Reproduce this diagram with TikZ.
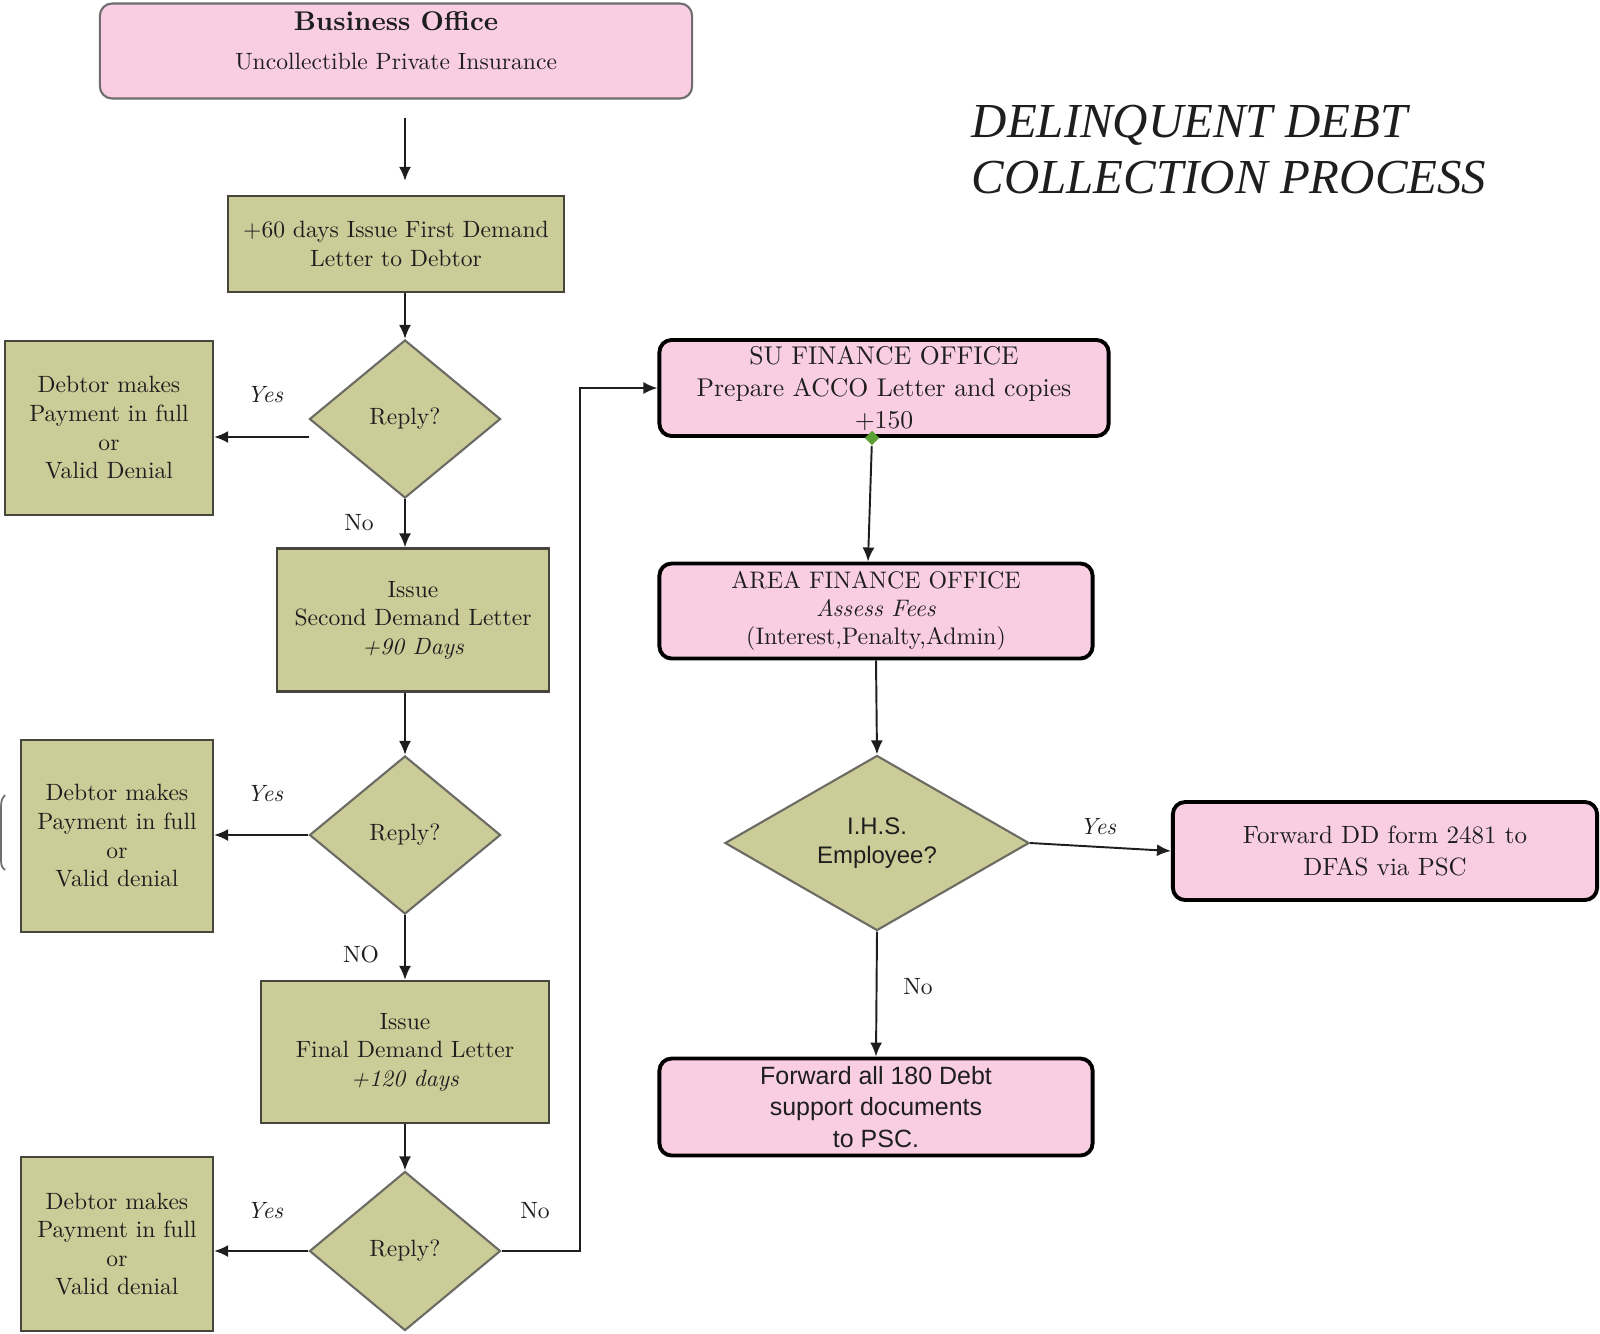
\documentclass[tikz,border=0pt]{standalone}
\usepackage{fontspec}
\setmainfont{lmroman10-regular.otf}[ItalicFont=lmroman10-italic.otf,BoldFont=lmroman10-bold.otf]
\setsansfont{Liberation Sans}
\newfontfamily\titlefont{Liberation Serif}
\usetikzlibrary{calc,arrows.meta,shapes.geometric}

\definecolor{boxpink}{RGB}{249,206,227}
\definecolor{khaki}{RGB}{204,204,153}
\definecolor{boxline}{RGB}{70,70,60}
\definecolor{bogray}{RGB}{110,110,110}
\definecolor{dotgreen}{RGB}{90,160,50}
\definecolor{ink}{RGB}{30,30,30}

\newcommand\bodysize{\fontsize{6.7}{8.14}\selectfont}
\newcommand\sanssize{\fontsize{7.1}{9}\selectfont}

\tikzset{
  office/.style={draw=black,line width=1.1pt,rounded corners=3.5pt,fill=boxpink,
    align=center,inner sep=0pt,text=ink,font=\bodysize},
  stepbox/.style={draw=boxline,line width=0.6pt,fill=khaki,align=center,
    inner sep=0pt,text=ink,font=\bodysize},
  query/.style={diamond,draw=boxline!80,line width=0.6pt,fill=khaki,align=center,
    inner sep=0pt,text=ink,font=\bodysize},
  answer/.style={text=ink,font=\bodysize,inner sep=0pt},
  flow/.style={->,line width=0.55pt,draw=ink}
}

\begin{document}
\begin{tikzpicture}[x=0.01cm,y=-0.01cm,>={Latex[length=0.14cm,width=0.12cm]}]
  \useasboundingbox (0,0) rectangle (1600,1333);

  % left column
  \node[office,draw=bogray,line width=0.6pt,minimum width=5.92cm,minimum height=0.95cm,text depth=6pt] (bo) at (396,51)
    {{\bfseries\fontsize{7.7}{12}\selectfont Business Office}\\[3pt] Uncollectible Private Insurance};
  \node[stepbox,minimum width=3.35cm,minimum height=0.96cm] (first) at (396,244)
    {+60 days Issue First Demand\\Letter to Debtor};
  \node[query,minimum width=1.91cm,minimum height=1.58cm] (reply1) at (405,419) {Reply?};
  \node[stepbox,minimum width=2.08cm,minimum height=1.74cm] (pay1) at (109,428)
    {Debtor makes\\Payment in full\\or\\Valid Denial};
  \node[stepbox,minimum width=2.72cm,minimum height=1.43cm] (second) at (413,620)
    {Issue\\Second Demand Letter\\\textit{+90 Days}};
  \node[query,minimum width=1.91cm,minimum height=1.58cm] (reply2) at (405,835) {Reply?};
  \node[stepbox,minimum width=1.92cm,minimum height=1.92cm] (pay2) at (117,836)
    {Debtor makes\\Payment in full\\or\\Valid denial};
  \node[stepbox,minimum width=2.88cm,minimum height=1.42cm] (final) at (405,1052)
    {Issue\\Final Demand Letter\\\textit{+120 days}};
  \node[query,minimum width=1.91cm,minimum height=1.59cm] (reply3) at (405,1251) {Reply?};
  \node[stepbox,minimum width=1.92cm,minimum height=1.74cm] (pay3) at (117,1244)
    {Debtor makes\\Payment in full\\or\\Valid denial};

  % right column
  \node[office,font=\fontsize{7.3}{9.1}\selectfont,minimum width=4.49cm,minimum height=0.96cm] (su) at (884,388)
    {SU FINANCE OFFICE\\Prepare ACCO Letter and copies\\+150};
  \node[office,font=\fontsize{6.8}{8}\selectfont,minimum width=4.33cm,minimum height=0.95cm] (area) at (876,611)
    {AREA FINANCE OFFICE\\\textit{Assess Fees}\\(Interest,Penalty,Admin)};
  \node[query,font=\sffamily\fontsize{6.8}{8.1}\selectfont,minimum width=3.04cm,minimum height=1.75cm] (ihs) at (877,843)
    {I.H.S.\\Employee?};
  \node[office,font=\fontsize{7.1}{9}\selectfont,minimum width=4.24cm,minimum height=0.98cm] (fwd) at (1385,851)
    {Forward DD form 2481 to\\DFAS via PSC};
  \node[office,font=\sffamily\sanssize,minimum width=4.33cm,minimum height=0.97cm] (psc) at (876,1107)
    {Forward all 180 Debt\\support documents\\to PSC.};

  \node[anchor=north west,inner sep=0pt,align=left,text=ink,
    font=\titlefont\itshape\fontsize{13.9}{16}\selectfont] (title) at (971,104)
    {DELINQUENT DEBT\\COLLECTION PROCESS};

  % answers
  \node[answer] (yes1) at (265,395) {\textit{Yes}};
  \node[answer] (no1) at (359,523) {No};
  \node[answer] (yes2) at (265,794) {\textit{Yes}};
  \node[answer] (no2) at (361,954) {NO};
  \node[answer] (yes3) at (265,1211) {\textit{Yes}};
  \node[answer] (no3) at (535,1211) {No};
  \node[answer] (yes4) at (1098,827) {\textit{Yes}};
  \node[answer] (no4) at (918,987) {No};

  % connectors
  \draw[flow,shorten <=0.18cm,shorten >=0.14cm] (bo.south -| reply1) -- (first.north -| reply1);
  \draw[flow] (first.south -| reply1) -- (reply1.north);
  \draw[flow] ($(reply1.west)+(1,18)$) -- ($(pay1.east)+(0,9)$);
  \draw[flow] (reply1.south) -- (second.north -| reply1);
  \draw[flow] (second.south -| reply1) -- (reply2.north);
  \draw[flow] (reply2.west) -- (reply2.west -| pay2.east);
  \draw[flow] (reply2.south) -- (final.north -| reply2);
  \draw[flow] (final.south -| reply2) -- (reply3.north);
  \draw[flow] (reply3.west) -- (reply3.west -| pay3.east);
  \coordinate (turn) at (580,388);
  \draw[flow] (reply3.east) -| (turn) -- (su.west);

  \node[diamond,fill=dotgreen,inner sep=0pt,minimum size=0.15cm] (dot) at ($(su.south)+(-12,0)$) {};
  \draw[flow] (dot) -- ($(area.north)+(-8,0)$);
  \draw[flow] (area.south) -- (ihs.north);
  \draw[flow] (ihs.east) -- (fwd.west);
  \draw[flow] (ihs.south) -- (psc.north);

  % stray edge at the left border
  \draw[bogray,line width=0.5pt] (5,795) .. controls (1,800) .. (1,815) -- (1,855) .. controls (1,866) .. (5,870);
\end{tikzpicture}
\end{document}
